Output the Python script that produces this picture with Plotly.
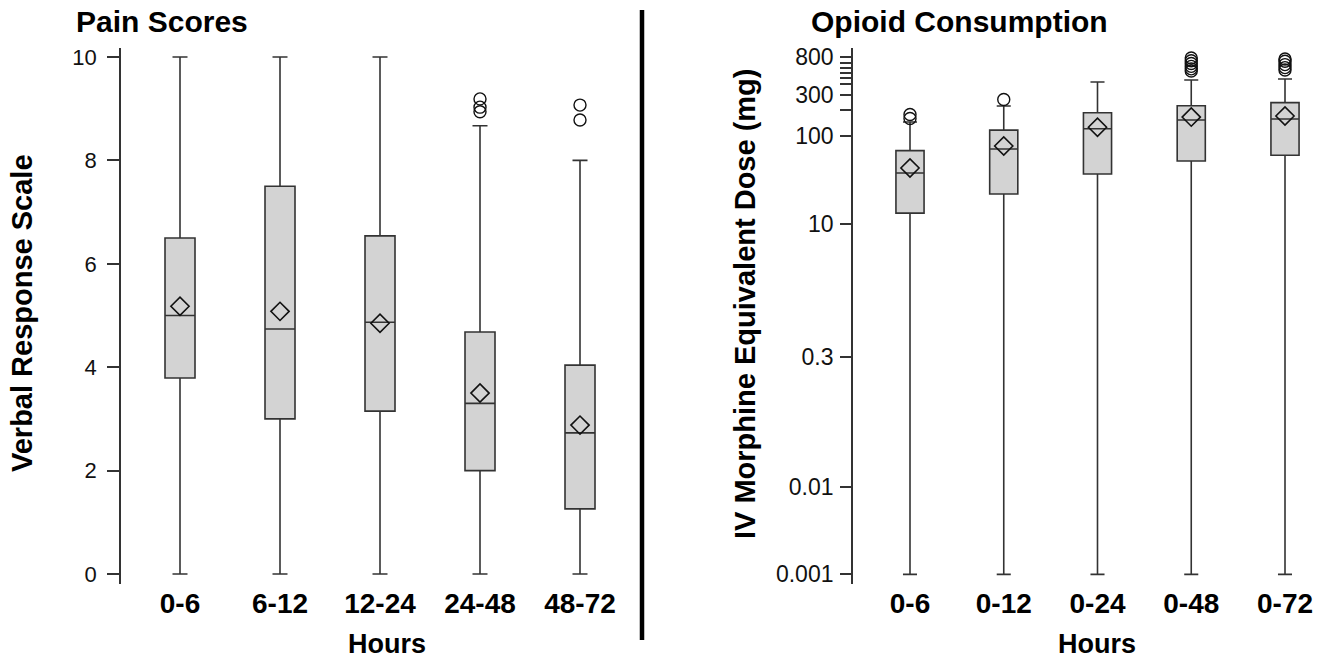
import plotly.graph_objects as go

W, H = 1322, 659

# ---------------- data ----------------
pain_categories = ["0-6", "6-12", "12-24", "24-48", "48-72"]
pain_q1 = [3.79, 3.0, 3.15, 2.0, 1.26]
pain_median = [5.0, 4.74, 4.87, 3.3, 2.73]
pain_q3 = [6.5, 7.5, 6.54, 4.68, 4.04]
pain_low = [0, 0, 0, 0, 0]
pain_high = [10, 10, 10, 8.67, 8.0]
pain_mean = [5.18, 5.08, 4.85, 3.5, 2.88]
pain_out_x = ["24-48", "24-48", "24-48", "48-72", "48-72"]
pain_out_y = [9.19, 9.03, 8.94, 9.07, 8.78]

opioid_categories = ["0-6", "0-12", "0-24", "0-48", "0-72"]
opioid_q1 = [13.3, 22, 37.2, 52.4, 60.8]
opioid_median = [38.2, 71.8, 122, 154, 158]
opioid_q3 = [68.7, 118, 186, 224, 243]
opioid_low = [0.001, 0.001, 0.001, 0.001, 0.001]
opioid_high = [146, 222, 418, 440, 452]
opioid_mean = [43.6, 77.6, 127, 166, 171]
opioid_out_x = ["0-6", "0-6", "0-12",
                "0-48", "0-48", "0-48", "0-48", "0-48", "0-48",
                "0-72", "0-72", "0-72", "0-72", "0-72"]
opioid_out_y = [178, 160, 264,
                785, 730, 680, 630, 590, 558,
                766, 720, 660, 610, 573]

opioid_tickvals = [0.001, 0.01, 0.3, 10, 100, 300, 800]
opioid_ticktext = ["0.001", "0.01", "0.3", "10", "100", "300", "800"]
opioid_minor_ticks = [200, 400, 470, 535, 610, 690]
pain_tickvals = [0, 2, 4, 6, 8, 10]

# ---------------- style ----------------
FONT = "Liberation Sans, Arial, sans-serif"
LINE = "#333333"
FILL = "#d3d3d3"

fig = go.Figure()

def add_panel(cats, q1, med, q3, lo, hi, mean, ox, oy, xa, ya):
    fig.add_trace(go.Box(
        x=cats, q1=q1, median=med, q3=q3, lowerfence=lo, upperfence=hi,
        width=0.3, whiskerwidth=0.5, fillcolor=FILL,
        line=dict(color=LINE, width=1.6), boxpoints=False,
        xaxis=xa, yaxis=ya, showlegend=False, hoverinfo="skip"))
    fig.add_trace(go.Scatter(
        x=cats, y=mean, mode="markers",
        marker=dict(symbol="diamond-open", size=14, color="#111111",
                    line=dict(width=1.6, color="#111111")),
        xaxis=xa, yaxis=ya, showlegend=False, hoverinfo="skip"))
    fig.add_trace(go.Scatter(
        x=ox, y=oy, mode="markers",
        marker=dict(symbol="circle-open", size=12, color="#111111",
                    line=dict(width=1.4, color="#111111")),
        xaxis=xa, yaxis=ya, showlegend=False, hoverinfo="skip"))

add_panel(pain_categories, pain_q1, pain_median, pain_q3, pain_low, pain_high,
          pain_mean, pain_out_x, pain_out_y, "x", "y")
add_panel(opioid_categories, opioid_q1, opioid_median, opioid_q3, opioid_low,
          opioid_high, opioid_mean, opioid_out_x, opioid_out_y, "x2", "y2")

ydom = [1 - 584 / H, 1 - 48 / H]
xt_font = dict(family=FONT, size=28, color="black", weight="bold")
yt_font = dict(family=FONT, size=22, color="#111111")
yt_font2 = dict(family=FONT, size=23, color="#111111")

fig.update_layout(
    width=W, height=H, template="none",
    margin=dict(l=0, r=0, t=0, b=0),
    paper_bgcolor="white", plot_bgcolor="white",
    xaxis=dict(domain=[121 / W, 630 / W], type="category",
               categoryorder="array", categoryarray=pain_categories,
               range=[-0.59, 4.5], showline=False, showgrid=False,
               zeroline=False, ticks="", tickfont=xt_font, automargin=False,
               anchor="y"),
    yaxis=dict(domain=ydom, range=[-0.193, 10.174], showline=True,
               linecolor=LINE, linewidth=1.8, ticks="outside", ticklen=12,
               tickwidth=1.6, tickcolor=LINE, tickvals=pain_tickvals,
               showgrid=False, zeroline=False, tickfont=yt_font,
               automargin=False, anchor="x", ticklabelstandoff=6),
    xaxis2=dict(domain=[853 / W, 1315 / W], type="category",
                categoryorder="array", categoryarray=opioid_categories,
                range=[-0.608, 4.32], showline=False, showgrid=False,
                zeroline=False, ticks="", tickfont=xt_font, automargin=False,
                anchor="y2"),
    yaxis2=dict(domain=ydom, type="log", range=[-3.11, 3.009], showline=True,
                linecolor=LINE, linewidth=1.8, ticks="outside", ticklen=11,
                tickwidth=1.6, tickcolor=LINE, tickmode="array",
                tickvals=opioid_tickvals, ticktext=opioid_ticktext,
                minor=dict(tickmode="array", tickvals=opioid_minor_ticks,
                           ticks="outside", ticklen=11, tickwidth=1.6,
                           tickcolor=LINE, showgrid=False),
                showgrid=False, zeroline=False, tickfont=yt_font2,
                automargin=False, anchor="x2", ticklabelstandoff=2),
)

def ann(text, x, y, size, angle=0, yanchor="middle"):
    fig.add_annotation(text=text, x=x / W, y=1 - y / H, xref="paper",
                       yref="paper", showarrow=False, textangle=angle,
                       xanchor="center", yanchor=yanchor,
                       font=dict(family=FONT, size=size, color="black",
                                 weight="bold"))

ann("Pain Scores", 162, 22, 30)
ann("Opioid Consumption", 959, 22, 30)
ann("Hours", 387, 661, 27, yanchor="bottom")
ann("Hours", 1097, 661, 27, yanchor="bottom")
ann("Verbal Response Scale", 22, 313, 29, -90)
ann("IV Morphine Equivalent Dose (mg)", 745, 303, 29, -90)

fig.add_shape(type="line", xref="paper", yref="paper",
              x0=642 / W, x1=642 / W, y0=1 - 10 / H, y1=1 - 640 / H,
              line=dict(color="black", width=4.5))

fig.write_html(
    "out.html",
    config={"displayModeBar": False},
    post_script="document.body.style.margin='0';document.body.style.overflow='hidden';",
)
